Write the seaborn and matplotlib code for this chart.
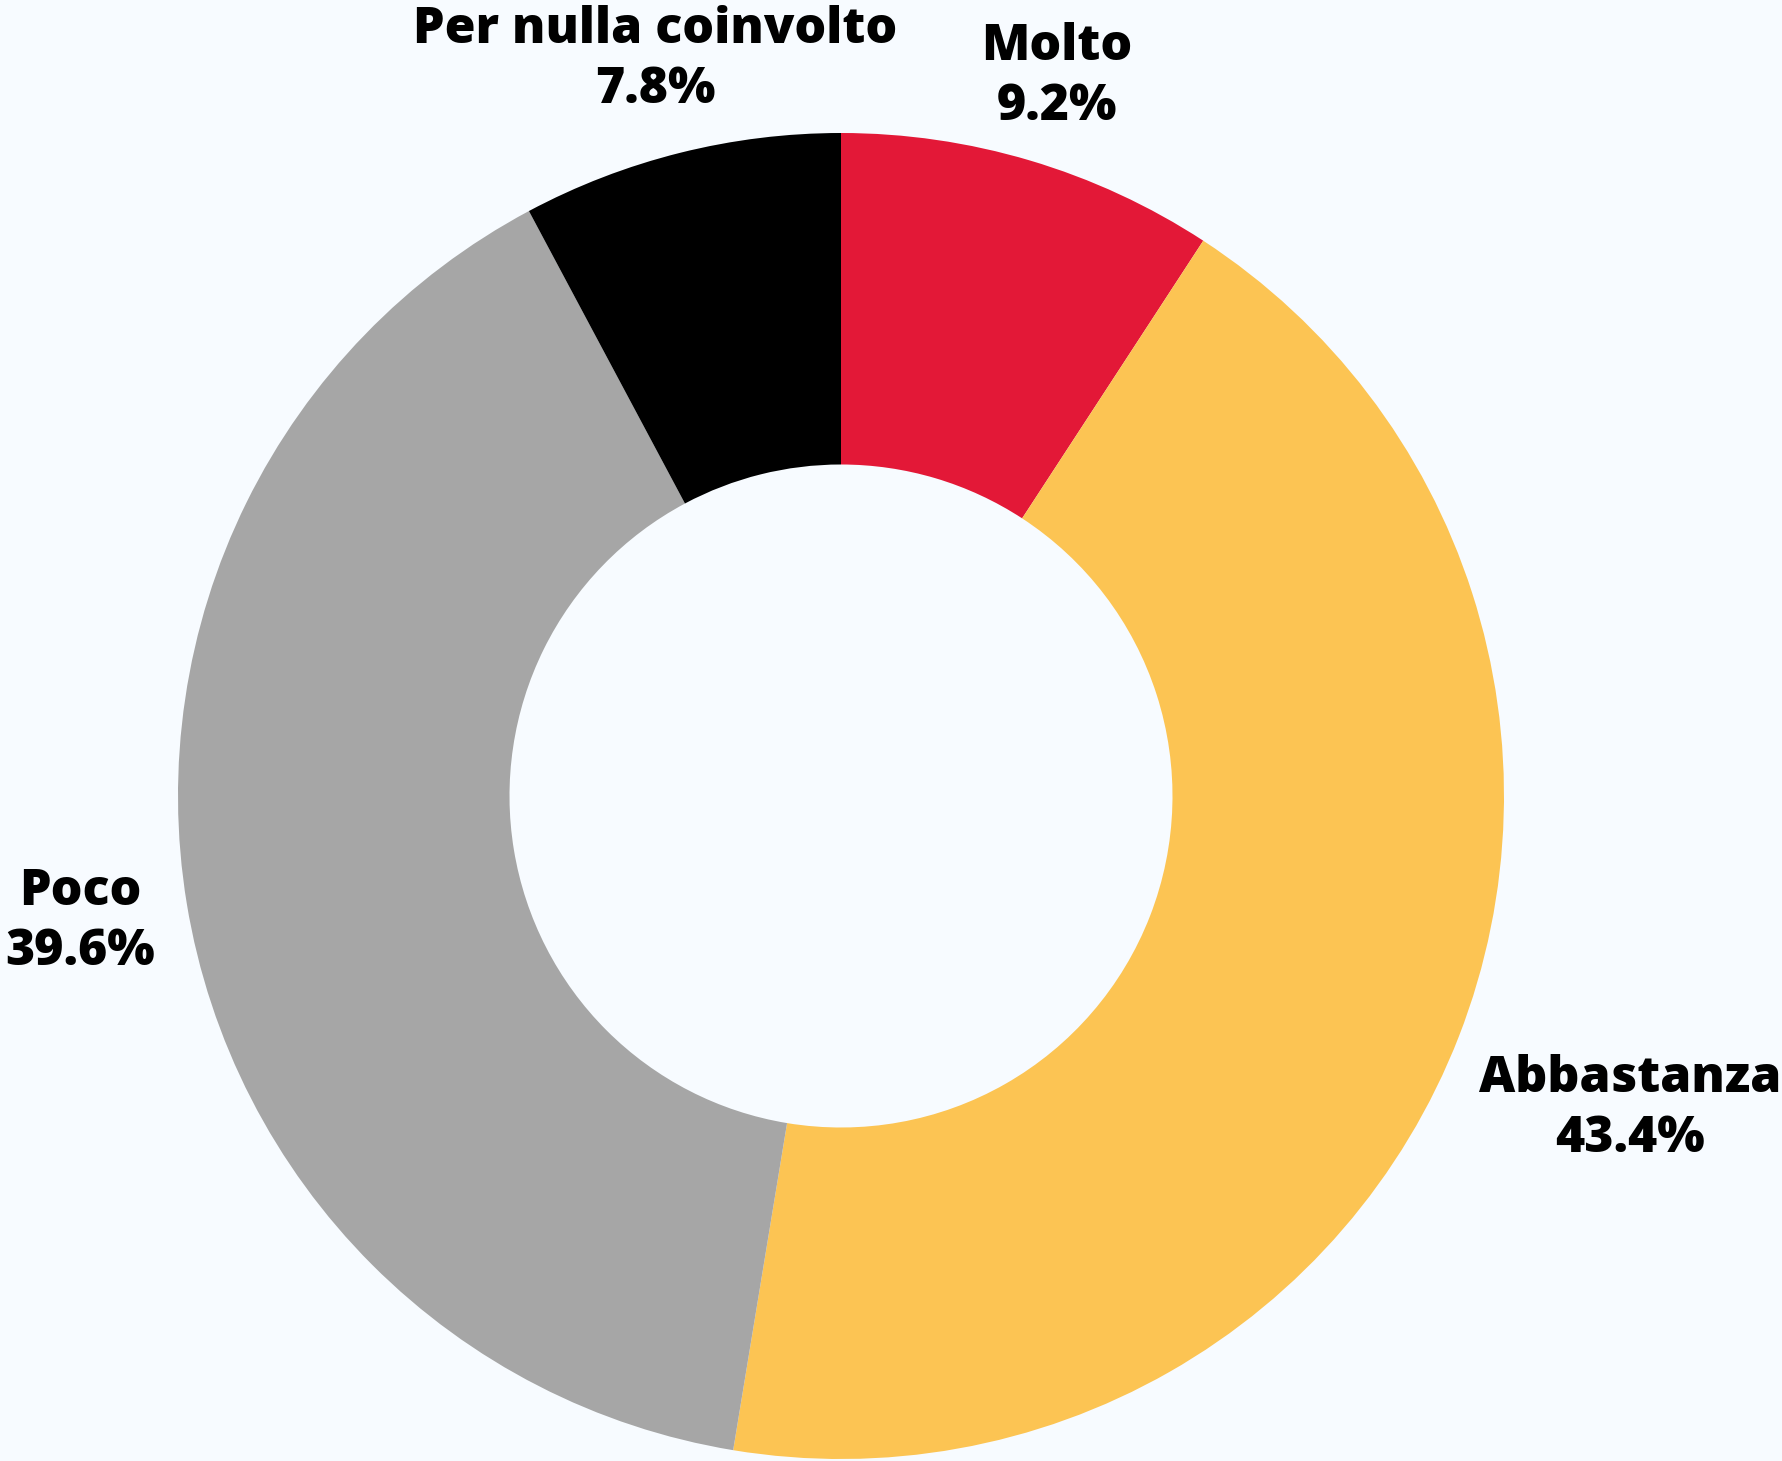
import matplotlib
matplotlib.use("Agg")
import matplotlib.pyplot as plt
import seaborn as sns

# Data
categories = ["Molto", "Abbastanza", "Poco", "Per nulla coinvolto"]
shares = [9.2, 43.4, 39.6, 7.8]
colors = ["#E31837", "#FCC453", "#A6A6A6", "#000000"]

bg = "#F7FBFF"
sns.set_theme(style="white", rc={"figure.facecolor": bg, "axes.facecolor": bg})
plt.rcParams["font.family"] = ["Open Sans", "DejaVu Sans"]

fig = plt.figure(figsize=(17.83, 14.61), dpi=100)
# centre at (841, 796) px, radius 663 px
ax = fig.add_axes([(841 - 663) / 1783, (1461 - 796 - 663) / 1461, 2 * 663 / 1783, 2 * 663 / 1461])

wedges, _ = ax.pie(shares, colors=colors, startangle=90, counterclock=False,
                   wedgeprops=dict(width=0.5, linewidth=0))
ax.set_xlim(-1, 1)
ax.set_ylim(-1, 1)
ax.axis("off")

# label offsets (in pie radius units)
label_pos = {
    "Molto": (0.326, 1.085),
    "Abbastanza": (1.19, -0.472),
    "Poco": (-1.148, -0.19),
    "Per nulla coinvolto": (-0.28, 1.11),
}
for cat, val in zip(categories, shares):
    x, y = label_pos[cat]
    ax.text(x, y, f"{cat}\n{val:.1f}%", ha="center", va="center",
            fontsize=36, fontweight="heavy", color="black",
            linespacing=1.27, clip_on=False)

fig.savefig("out.png", dpi=100, facecolor=bg)
